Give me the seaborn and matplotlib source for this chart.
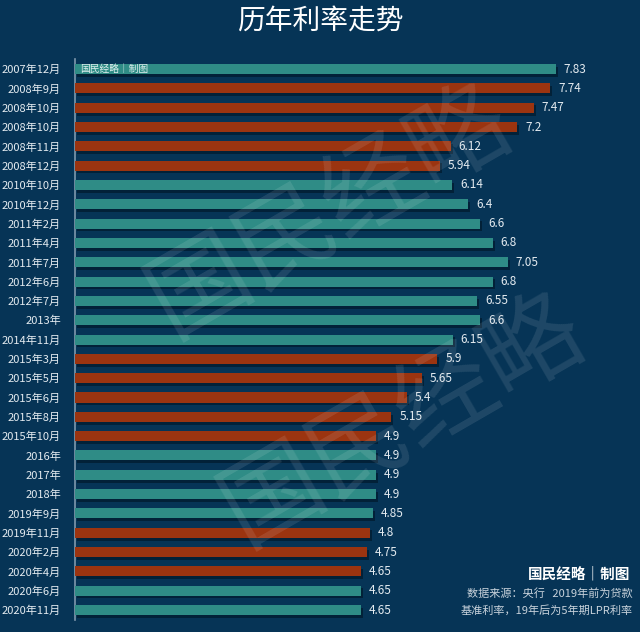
import numpy as np
import pandas as pd
import matplotlib
matplotlib.use("Agg")
import matplotlib.pyplot as plt
import matplotlib.patheffects as pe
import seaborn as sns

# ── data ──────────────────────────────────────────────────────────────────────
DATES = [
    "2007年12月", "2008年9月", "2008年10月", "2008年10月", "2008年11月",
    "2008年12月", "2010年10月", "2010年12月", "2011年2月", "2011年4月",
    "2011年7月", "2012年6月", "2012年7月", "2013年", "2014年11月",
    "2015年3月", "2015年5月", "2015年6月", "2015年8月", "2015年10月",
    "2016年", "2017年", "2018年", "2019年9月", "2019年11月",
    "2020年2月", "2020年4月", "2020年6月", "2020年11月",
]
RATES = [
    7.83, 7.74, 7.47, 7.2, 6.12,
    5.94, 6.14, 6.4, 6.6, 6.8,
    7.05, 6.8, 6.55, 6.6, 6.15,
    5.9, 5.65, 5.4, 5.15, 4.9,
    4.9, 4.9, 4.9, 4.85, 4.8,
    4.75, 4.65, 4.65, 4.65,
]
# colour group of each bar as drawn in the original
GROUP = [
    "a", "b", "b", "b", "b",
    "b", "a", "a", "a", "a",
    "a", "a", "a", "a", "a",
    "b", "b", "b", "b", "b",
    "a", "a", "a", "a", "b",
    "b", "b", "a", "a",
]

BG = "#063456"
TEAL = "#2f8c86"
RUST = "#9b3410"
TXT = "#e4ebf0"

plt.rcParams.update({
    "figure.facecolor": BG,
    "axes.facecolor": BG,
    "savefig.facecolor": BG,
})
sns.set_style("dark", {"axes.facecolor": BG, "figure.facecolor": BG})
plt.rcParams["font.family"] = ["Noto Sans CJK SC", "DejaVu Sans"]

df = pd.DataFrame({"pos": np.arange(len(DATES)), "rate": RATES, "group": GROUP})

fig = plt.figure(figsize=(6.4, 6.32), dpi=100)
ax = fig.add_axes([0.117, 0.0195, 0.883, 0.8865])

# ── watermark ─────────────────────────────────────────────────────────────────
for cx, cy in [(0.515, 0.665), (0.63, 0.335)]:
    fig.text(cx, cy, "国民经略", fontsize=72, fontweight="medium", color="white",
             alpha=0.10, rotation=30, ha="center", va="center",
             rotation_mode="anchor", zorder=0)

# ── bars ──────────────────────────────────────────────────────────────────────
sns.barplot(data=df, x="rate", y="pos", hue="group", orient="h",
            palette={"a": TEAL, "b": RUST}, dodge=False, legend=False,
            width=0.52, saturation=1, ax=ax, zorder=3)

for p in ax.patches:
    p.set_edgecolor("none")
    p.set_path_effects([
        pe.SimplePatchShadow(offset=(1.5, -2), shadow_rgbFace="#011a2c", alpha=0.7),
        pe.Normal(),
    ])

for i, v in enumerate(RATES):
    ax.text(v + 0.13, i, f"{v:g}", va="center", ha="left",
            fontsize=8.5, color=TXT, zorder=4)

# small credit inside the first bar
ax.text(0.08, 0, "国民经略｜制图", va="center", ha="left", fontsize=7,
        color="#dfeeee", zorder=5)

ax.set_xlim(0, 9.2)
ax.set_ylim(len(DATES) - 0.5, -0.5)
ax.set_yticks(np.arange(len(DATES)))
ax.set_yticklabels(DATES, fontsize=8, color=TXT)
ax.tick_params(axis="y", length=0, pad=10)
ax.set_xticks([])
ax.set_xlabel("")
ax.set_ylabel("")
ax.grid(False)
for side in ["top", "right", "bottom"]:
    ax.spines[side].set_visible(False)
ax.spines["left"].set_color("#7f98ad")
ax.spines["left"].set_linewidth(1.2)

# ── title and notes ───────────────────────────────────────────────────────────
fig.text(0.5, 1 - 22 / 632, "历年利率走势", ha="center", va="center",
         fontsize=20, color="white", fontweight="medium")

fig.text(0.985, 1 - 573 / 632, "国民经略｜制图", ha="right", va="center",
         fontsize=10.5, fontweight="bold", color="white")
fig.text(0.988, 1 - 594 / 632, "数据来源：央行   2019年前为贷款", ha="right",
         va="center", fontsize=8, color="#c9d3dc")
fig.text(0.988, 1 - 610 / 632, "基准利率，19年后为5年期LPR利率", ha="right",
         va="center", fontsize=8, color="#c9d3dc")

fig.savefig("out.png", dpi=100)
